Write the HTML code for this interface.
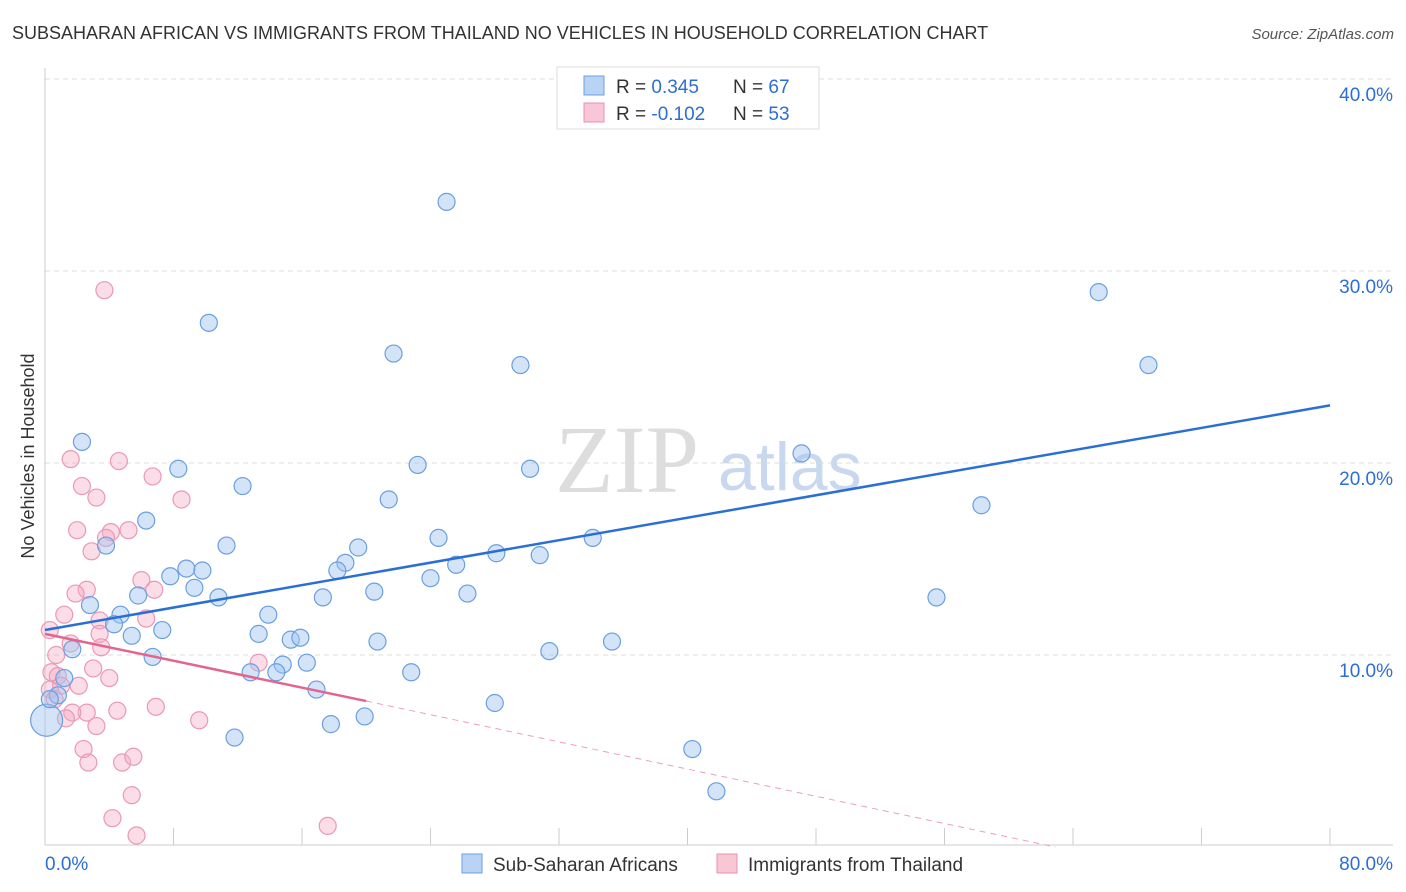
<!DOCTYPE html>
<html><head><meta charset="utf-8"><style>
body{margin:0;background:#fff;font-family:"Liberation Sans",sans-serif}
svg{display:block}
</style></head><body>
<svg id="chart" width="1406" height="892">
<text x="12" y="39" font-size="18" fill="#333">SUBSAHARAN AFRICAN VS IMMIGRANTS FROM THAILAND NO VEHICLES IN HOUSEHOLD CORRELATION CHART</text>
<text x="1394" y="39" font-size="15" fill="#555" font-style="italic" text-anchor="end">Source: ZipAtlas.com</text>
<text x="0" y="0" transform="translate(34,456) rotate(-90)" font-size="18" fill="#333" text-anchor="middle">No Vehicles in Household</text>
<g><text x="555" y="492" font-family="Liberation Serif,serif" font-size="96" fill="#ddd">ZIP</text><text x="718" y="490" font-size="68" fill="#c8d8ee">atlas</text></g>
<g id="grid"></g><g id="marks"></g>
<g>
<rect x="557" y="67" width="262" height="62" fill="#fff" stroke="#ddd"/>
<rect x="584" y="76" width="20" height="19" fill="#b9d3f5" stroke="#6a9fe0"/>
<rect x="584" y="103" width="20" height="19" fill="#f9c6d6" stroke="#e890b0"/>
<text x="616" y="93" font-size="19" fill="#333">R = <tspan fill="#2d6ed6">0.345</tspan></text>
<text x="733" y="93" font-size="19" fill="#333">N = <tspan fill="#2d6ed6">67</tspan></text>
<text x="616" y="120" font-size="19" fill="#333">R = <tspan fill="#2d6ed6">-0.102</tspan></text>
<text x="733" y="120" font-size="19" fill="#333">N = <tspan fill="#2d6ed6">53</tspan></text>
</g>
<g>
<rect x="462" y="854" width="20" height="19" fill="#b9d3f5" stroke="#6a9fe0"/>
<text x="493" y="871" font-size="19" fill="#333">Sub-Saharan Africans</text>
<rect x="717" y="854" width="20" height="19" fill="#f9c6d6" stroke="#e890b0"/>
<text x="748" y="871" font-size="19" fill="#333">Immigrants from Thailand</text>
</g>
</svg>
<script>
const yTicks=[10,20,30,40];
const yTickLabels=["10.0%","20.0%","30.0%","40.0%"];
const xTicks=[0,8,16,24,32,40,48,56,64,72,80];
const blueX=[40.6,25.0,10.2,21.7,29.6,65.6,68.7,2.3,8.3,12.3,23.2,30.2,47.1,21.4,6.3,58.3,3.8,11.3,24.5,34.1,19.5,28.1,30.8,25.6,18.7,18.2,8.8,9.8,7.8,24.0,9.3,20.5,26.3,17.3,5.8,10.8,55.5,2.8,4.7,13.9,4.3,7.3,5.4,13.3,15.3,15.9,20.7,35.3,1.7,6.7,31.4,14.8,16.3,12.8,14.4,22.8,1.2,16.9,0.8,28.0,19.9,17.8,0.1,11.8,40.3,41.8,0.3];
const blueY=[38.0,33.6,27.3,25.7,25.1,28.9,25.1,21.1,19.7,18.8,19.9,19.7,20.5,18.1,17.0,17.8,15.7,15.7,16.1,16.1,15.6,15.3,15.2,14.7,14.8,14.4,14.5,14.4,14.1,14.0,13.5,13.3,13.2,13.0,13.1,13.0,13.0,12.6,12.1,12.1,11.6,11.3,11.0,11.1,10.8,10.9,10.7,10.7,10.3,9.9,10.2,9.5,9.6,9.1,9.1,9.1,8.8,8.2,7.9,7.5,6.8,6.4,6.6,5.7,5.1,2.9,7.7];
const pinkX=[3.7,1.6,4.6,6.7,2.3,3.2,8.5,2.0,5.2,4.1,3.8,2.9,6.0,2.6,6.8,1.9,6.3,3.4,1.2,3.4,0.3,1.6,3.5,0.7,3.0,13.3,0.4,4.0,0.8,1.0,2.1,0.3,0.6,4.5,6.9,2.6,1.7,1.3,9.6,3.2,2.4,2.7,4.8,5.5,5.4,4.2,5.7,17.6];
const pinkY=[29.0,20.2,20.1,19.3,18.8,18.2,18.1,16.5,16.5,16.4,16.1,15.4,13.9,13.4,13.4,13.2,11.9,11.8,12.1,11.1,11.3,10.6,10.4,10.0,9.3,9.6,9.1,8.8,8.9,8.4,8.4,8.2,7.7,7.1,7.3,7.0,7.0,6.7,6.6,6.3,5.1,4.4,4.4,4.7,2.7,1.5,0.6,1.1];
const blueTrend=[[0,11.3],[80,23.0]];
const pinkTrend=[[0,11.1],[20,7.6]];
const pinkDash=[[20,7.6],[62.9,0]];
const NS="http://www.w3.org/2000/svg";
const X=v=>45+v/80*1285, Y=v=>847-v*19.2;
const grid=document.getElementById('grid'), marks=document.getElementById('marks');
function mk(p,tag,a){const e=document.createElementNS(NS,tag);for(const k in a)e.setAttribute(k,a[k]);p.appendChild(e);return e;}
yTicks.forEach((t,i)=>{
 const l=mk(grid,'line',{x1:45,x2:1393,y1:Y(t),y2:Y(t),stroke:'#ddd','stroke-dasharray':'5,4'});
 
 
 const tx=mk(grid,'text',{x:1393,y:Y(t)+22,'font-size':19,fill:'#2d6ed6','text-anchor':'end'});
 tx.textContent=yTickLabels[i];
 
 
});
mk(grid,'line',{x1:45,x2:45,y1:68,y2:845,stroke:'#ccc'});
mk(grid,'line',{x1:45,x2:1393,y1:845,y2:845,stroke:'#ccc'});
xTicks.forEach(t=>{
 const l=mk(grid,'line',{x1:X(t),x2:X(t),y1:828,y2:845,stroke:'#ccc'});
 
 
});
const xl=mk(grid,'text',{x:45,y:870,'font-size':19,fill:'#2d6ed6'});xl.textContent='0.0%';


const xr=mk(grid,'text',{x:1393,y:870,'font-size':19,fill:'#2d6ed6','text-anchor':'end'});xr.textContent='80.0%';


pinkX.forEach((v,i)=>{
 const c=mk(marks,'circle',{cx:X(v),cy:Y(pinkY[i]),r:8.5,fill:'rgba(245,170,195,0.4)',stroke:'#ea98b6','stroke-width':1.2});
 
 
});
blueX.forEach((v,i)=>{
 const c=mk(marks,'circle',{cx:X(v),cy:Y(blueY[i]),r:(v<0.5&&blueY[i]<7)?16:8.5,fill:'rgba(160,195,240,0.45)',stroke:'#6a9fe0','stroke-width':1.2});
 
 
});
const bt=mk(marks,'line',{x1:X(blueTrend[0][0]),y1:Y(blueTrend[0][1]),x2:X(blueTrend[1][0]),y2:Y(blueTrend[1][1]),stroke:'#2a6fd6','stroke-width':2.5});


const pt=mk(marks,'line',{x1:X(pinkTrend[0][0]),y1:Y(pinkTrend[0][1]),x2:X(pinkTrend[1][0]),y2:Y(pinkTrend[1][1]),stroke:'#e2648f','stroke-width':2.5});


const pd=mk(marks,'line',{x1:X(pinkDash[0][0]),y1:Y(pinkDash[0][1]),x2:X(pinkDash[1][0]),y2:Y(pinkDash[1][1]),stroke:'#eaa0ba','stroke-width':1,'stroke-dasharray':'6,5'});


</script>
</body></html>
